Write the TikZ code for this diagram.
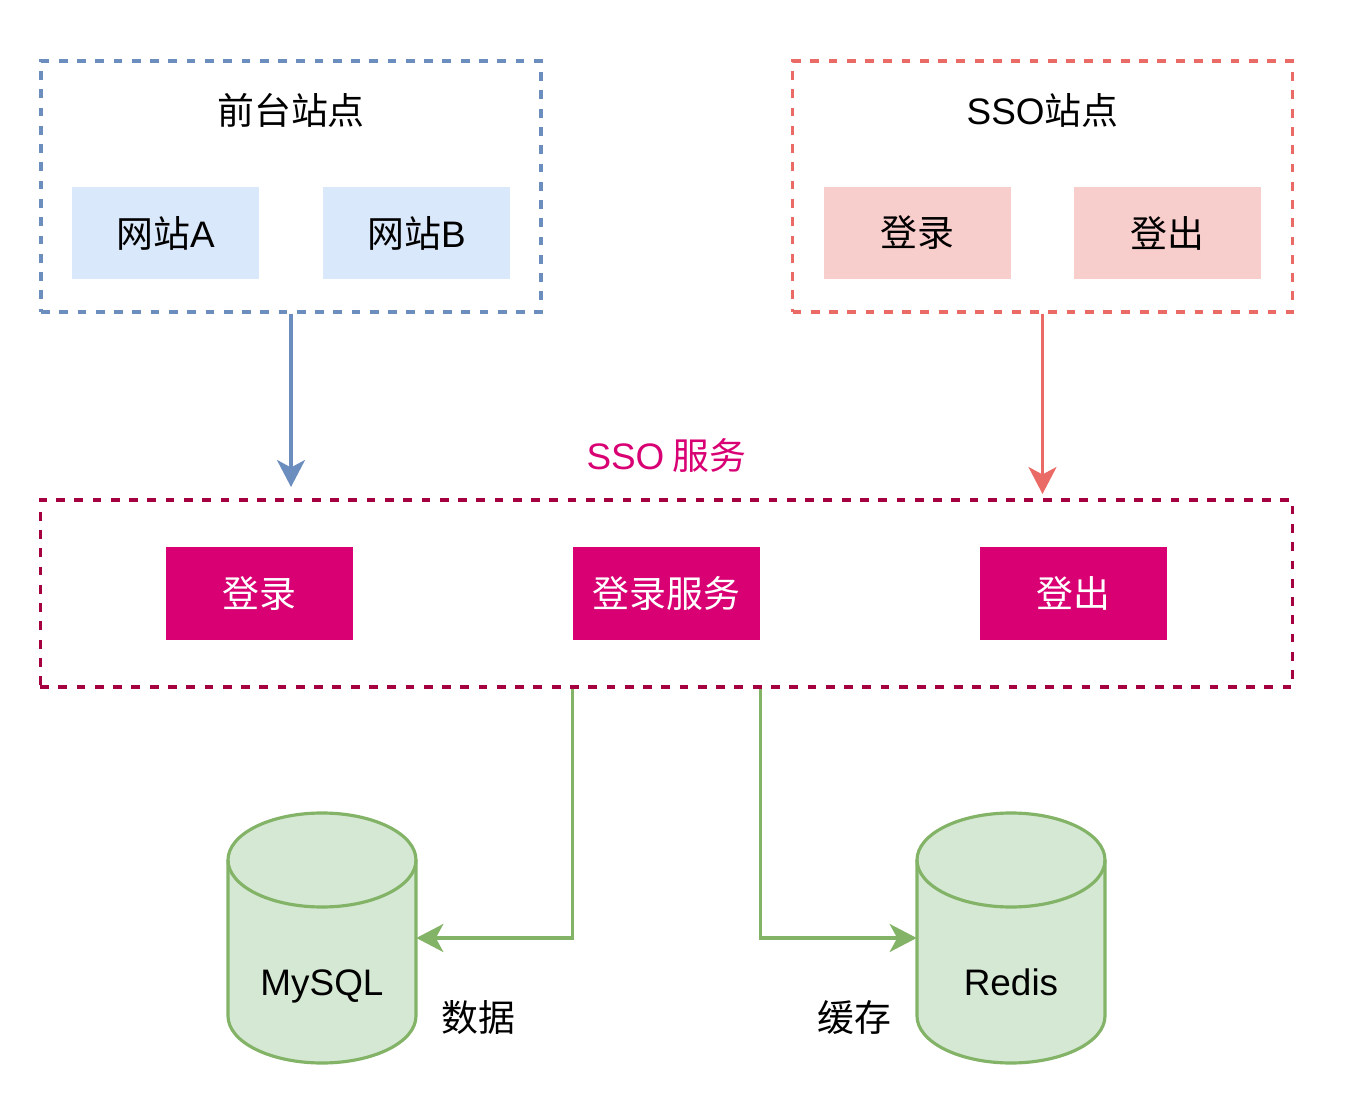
\documentclass[tikz,border=0pt]{standalone}
\usepackage{fontspec}
\newfontfamily\cjk{Noto Sans CJK SC}
\newfontfamily\lat{Liberation Sans}
\usetikzlibrary{arrows.meta}
\definecolor{BlueLine}{HTML}{6C8EBF}
\definecolor{BlueFill}{HTML}{DAE8FC}
\definecolor{RedLine}{HTML}{EA6B66}
\definecolor{RedFill}{HTML}{F8CECC}
\definecolor{SvcLine}{HTML}{A50040}
\definecolor{SvcFill}{HTML}{D80073}
\definecolor{GreenLine}{HTML}{82B366}
\definecolor{GreenFill}{HTML}{D5E8D4}
\tikzset{
  txt/.style={font=\cjk\fontsize{21}{25}\selectfont, inner sep=0pt},
  group/.style={draw, dash pattern=on 5pt off 5.4pt, line width=1.8pt, minimum width=10cm, minimum height=5.02cm},
  item/.style={txt, minimum width=3.76cm, minimum height=1.86cm},
  link/.style={line width=1.8pt, -{Stealth[length=5.4mm, width=5.6mm, inset=1.5mm]}},
  drum/.style={fill=GreenFill, draw=GreenLine, line width=1.8pt}
}

\begin{document}
\begin{tikzpicture}[x=0.02cm, y=0.02cm]
  \useasboundingbox (0,0) rectangle (1350,-1098);
  % site groups
  \node[group, draw=BlueLine] (front) at (291,-186.5) {};
  \node[group, draw=RedLine] (ssosite) at (1042.5,-186.5) {};
  \node[txt] (fronttitle) at (291,-110) {前台站点};
  \node[txt] (ssotitle) at (1042.5,-110) {{\lat SSO}站点};
  % site pages
  \node[item, fill=BlueFill] (siteA) at (165.5,-233) {网站{\lat A}};
  \node[item, fill=BlueFill] (siteB) at (416.5,-233) {网站{\lat B}};
  \node[item, fill=RedFill] (pagein) at (917.5,-233) {登录};
  \node[item, fill=RedFill] (pageout) at (1167.5,-233) {登出};
  % sso service
  \node[group, draw=SvcLine, minimum width=25.06cm, minimum height=3.74cm] (sso) at (666.5,-593.5) {};
  \node[txt, text=SvcFill] (ssotxt) at (666.5,-455) {{\lat SSO} 服务};
  \node[item, fill=SvcFill, text=white] (login) at (259.5,-593.5) {登录};
  \node[item, fill=SvcFill, text=white] (svc) at (666.5,-593.5) {登录服务};
  \node[item, fill=SvcFill, text=white] (logout) at (1073.5,-593.5) {登出};
  % storage drums
  \filldraw[drum] (228,-860) -- (228,-1016) arc[start angle=180, end angle=360, x radius=94, y radius=47]
    -- (416,-860) arc[start angle=0, end angle=180, x radius=94, y radius=47] -- cycle;
  \draw[drum, fill=none] (228,-860) arc[start angle=180, end angle=360, x radius=94, y radius=47];
  \filldraw[drum] (917,-860) -- (917,-1016) arc[start angle=180, end angle=360, x radius=94, y radius=47]
    -- (1105,-860) arc[start angle=0, end angle=180, x radius=94, y radius=47] -- cycle;
  \draw[drum, fill=none] (917,-860) arc[start angle=180, end angle=360, x radius=94, y radius=47];
  \node[minimum width=3.76cm, minimum height=5cm, inner sep=0pt] (mysql) at (322,-938) {};
  \node[minimum width=3.76cm, minimum height=5cm, inner sep=0pt] (redis) at (1011,-938) {};
  \node[txt, font=\lat\fontsize{21}{25}\selectfont, anchor=base] (mysqltxt) at (322,-995) {MySQL};
  \node[txt, font=\lat\fontsize{21}{25}\selectfont, anchor=base] (redistxt) at (1011,-995) {Redis};
  \node[txt] (datatxt) at (478,-1018) {数据};
  \node[txt] (cachetxt) at (854,-1018) {缓存};
  % arrows
  \coordinate (frontin) at (291,-487);
  \coordinate (ssoin) at (1042.5,-494);
  \draw[link, BlueLine] (front.south) -- (frontin);
  \draw[link, RedLine] (ssosite.south) -- (ssoin);
  \draw[link, GreenLine] (svc.west |- sso.south) |- (mysql.east);
  \draw[link, GreenLine] (svc.east |- sso.south) |- (redis.west);
\end{tikzpicture}
\end{document}
